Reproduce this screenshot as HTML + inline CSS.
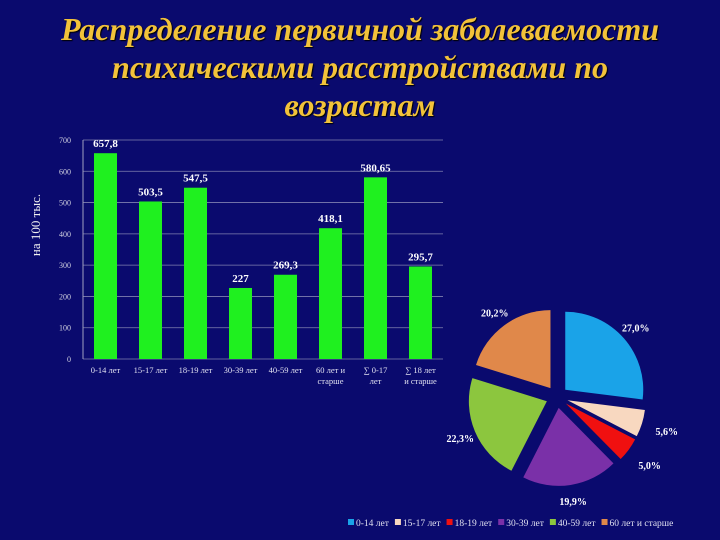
<!DOCTYPE html>
<html><head><meta charset="utf-8">
<style>
body{margin:0;background:#0a0a6e;}
#root{position:relative;width:720px;height:540px;background:#0a0a6e;overflow:hidden;font-family:"Liberation Serif",serif;}
#title{position:absolute;left:0;top:10px;width:720px;text-align:center;color:#f2c23a;font-weight:bold;font-style:italic;font-size:32px;line-height:38px;text-shadow:1px 1px 1px #000;}
svg{position:absolute;left:0;top:0;}
</style></head><body>
<div id="root">
<div id="title">Распределение первичной заболеваемости<br>психическими расстройствами по<br>возрастам</div>
<svg id="chart" width="720" height="540"></svg>
</div>
<script>
const categories=["0-14 лет","15-17 лет","18-19 лет","30-39 лет","40-59 лет","60 лет и|старше","∑ 0-17|лет","∑ 18 лет|и старше"];
const barValues=[657.8,503.5,547.5,227,269.3,418.1,580.65,295.7];
const barLabels=["657,8","503,5","547,5","227","269,3","418,1","580,65","295,7"];
const yTicks=[0,100,200,300,400,500,600,700];
const pieCategories=["0-14 лет","15-17 лет","18-19 лет","30-39 лет","40-59 лет","60 лет и старше"];
const pieValues=[27.0,5.6,5.0,19.9,22.3,20.2];
const pieLabels=["27,0%","5,6%","5,0%","19,9%","22,3%","20,2%"];
const pieColors=["#1aa3e8","#f8d8c0","#f01010","#7a30a8","#8cc63e","#e0884a"];

const NS="http://www.w3.org/2000/svg";
const svg=document.getElementById('chart');
function mk(tag,attrs,parent){const e=document.createElementNS(NS,tag);for(const k in attrs)e.setAttribute(k,attrs[k]);(parent||svg).appendChild(e);return e;}
const x0=83,x1=443,yBase=359,yTop=140;
const yScale=v=>yBase-(v/700)*(yBase-yTop);
const band=(x1-x0)/categories.length;
const xCenter=i=>x0+band*(i+0.5);

yTicks.forEach(t=>{
  const g=mk('line',{x1:x0,x2:x1,y1:yScale(t),y2:yScale(t),stroke:'#8080b0','stroke-width':0.8});
  
  
  const tx=mk('text',{x:x0-12,y:yScale(t)+3,'text-anchor':'end','font-size':8,fill:'#d0d0e0'});
  tx.textContent=t;
  
  
});
const ax=mk('line',{x1:x0,x2:x0,y1:yTop,y2:yBase,stroke:'#a0a0c0','stroke-width':1});


const yt=mk('text',{x:0,y:0,'font-size':13,fill:'#f0f0f0',transform:'translate(40,225) rotate(-90)','text-anchor':'middle'});
yt.textContent='на 100 тыс.';



barValues.forEach((v,i)=>{
  const bw=23;
  const r=mk('rect',{x:xCenter(i)-bw/2,y:yScale(v),width:bw,height:yBase-yScale(v),fill:'#1ff01f'});
  
  
  const l=mk('text',{x:xCenter(i),y:yScale(v)-6,'text-anchor':'middle','font-size':11,'font-weight':'bold',fill:'#ffffff'});
  l.textContent=barLabels[i];
  
  
  const parts=categories[i].split('|');
  parts.forEach((p,j)=>{
    const c=mk('text',{x:xCenter(i),y:yBase+14+j*11,'text-anchor':'middle','font-size':8.5,fill:'#e0e0f0'});
    c.textContent=p;
    
    
  });
});

// pie
const cx=557,cy=397,R=78,exp=11;
const total=pieValues.reduce((a,b)=>a+b,0);
let ang=-Math.PI/2;
pieValues.forEach((v,i)=>{
  const a0=ang,a1=ang+v/total*2*Math.PI;ang=a1;
  const mid=(a0+a1)/2;
  const ox=cx+Math.cos(mid)*exp,oy=cy+Math.sin(mid)*exp;
  const large=(a1-a0)>Math.PI?1:0;
  const d=`M${ox},${oy} L${ox+R*Math.cos(a0)},${oy+R*Math.sin(a0)} A${R},${R} 0 ${large} 1 ${ox+R*Math.cos(a1)},${oy+R*Math.sin(a1)} Z`;
  const p=mk('path',{d:d,fill:pieColors[i]});
  
  
  const lr=R+(v<8?26:16);
  const t=mk('text',{x:ox+lr*Math.cos(mid),y:oy+lr*Math.sin(mid)+4,'text-anchor':'middle','font-size':10,'font-weight':'bold',fill:'#ffffff'});
  t.textContent=pieLabels[i];
  
  
});

// legend
let lx=348;
pieCategories.forEach((c,i)=>{
  const s=mk('rect',{x:lx,y:519,width:6,height:6,fill:pieColors[i]});
  
  
  const t=mk('text',{x:lx+8,y:526,'font-size':9.5,fill:'#e0e0f0'});
  t.textContent=c;
  
  
  lx+=8+t.getComputedTextLength()+6;
});
</script>
</body></html>
